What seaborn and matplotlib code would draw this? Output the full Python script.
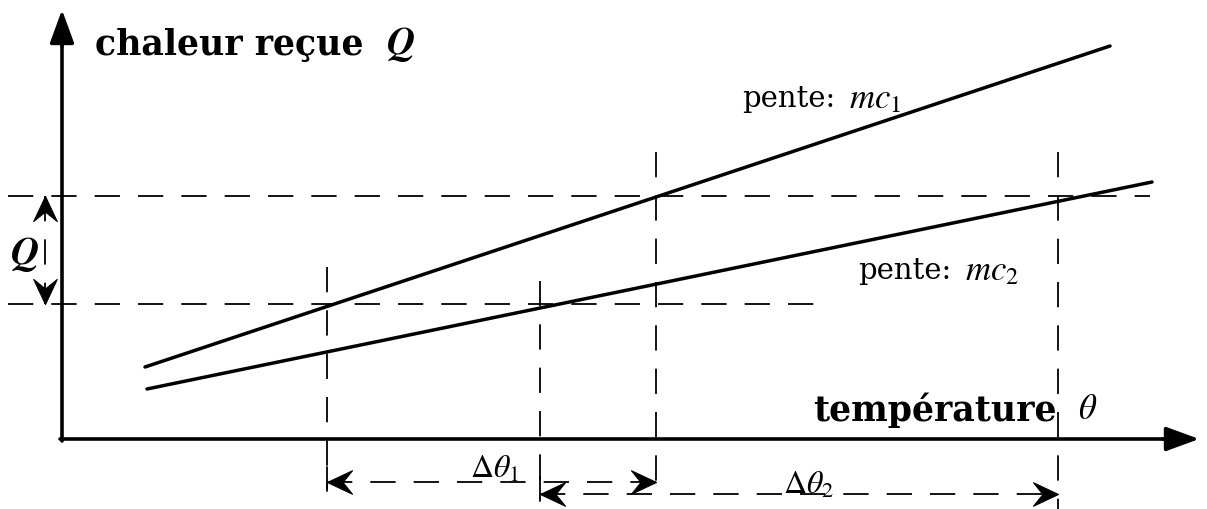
import matplotlib.pyplot as plt
import pandas as pd
import seaborn as sns
from matplotlib.path import Path
from matplotlib.markers import MarkerStyle
from matplotlib.transforms import Affine2D

# endpoints of the two heating lines (drawing units, y grows downward)
line_names = ['mc1', 'mc1', 'mc2', 'mc2']
line_theta = [145, 1110, 147, 1152]
line_q = [368, 47, 390, 183]

# reference levels and temperatures
q_levels = [197, 305]
q_level_ends = [1150, 830]
theta_marks = [327, 540, 656, 1058]
theta_mark_top = [268, 282, 153, 153]
theta_mark_bottom = [490, 500, 482, 510]

# delta-theta spans (start, end, y)
span1 = [327, 656, 483]
span2 = [540, 1058, 495]

sns.set_theme(style='white')
plt.rcParams['font.family'] = ['DejaVu Serif', 'DejaVu Sans']
plt.rcParams['mathtext.fontset'] = 'stix'
plt.rcParams['text.color'] = 'black'

fig = plt.figure(figsize=(12.07, 5.10), dpi=100)
ax = fig.add_axes([0, 0, 1, 1])
ax.set_xlim(0, 1207)
ax.set_ylim(510, 0)
ax.axis('off')

data = pd.DataFrame({'serie': line_names, 'theta': line_theta, 'Q': line_q})
sns.lineplot(data=data, x='theta', y='Q', units='serie', estimator=None,
             color='black', lw=2.5, ax=ax, legend=False)

dash = (0, (14, 10))
# horizontal dashed levels
for y, x_end in zip(q_levels, q_level_ends):
    ax.plot([8, x_end], [y, y], color='black', lw=1.3, ls=dash)
# vertical dashed marks
for x, y0, y1 in zip(theta_marks, theta_mark_top, theta_mark_bottom):
    ax.plot([x, x], [y0, y1], color='black', lw=1.3, ls=dash)

# axes with arrows
ax.plot([62, 62], [442, 40], color='black', lw=2.6)
ax.annotate('', xy=(62, 8), xytext=(62, 50),
            arrowprops=dict(arrowstyle='-|>,head_length=1.7,head_width=0.62',
                            color='black', lw=2.6))
ax.plot([60, 1165], [440, 440], color='black', lw=2.6)
ax.annotate('', xy=(1202, 440), xytext=(1160, 440),
            arrowprops=dict(arrowstyle='-|>,head_length=1.7,head_width=0.62',
                            color='black', lw=2.6))

# notched arrow head, tip at origin pointing +x
head_path = Path([(0, 0), (-1, 0.47), (-0.62, 0), (-1, -0.47), (0, 0)],
                 [Path.MOVETO, Path.LINETO, Path.LINETO, Path.LINETO, Path.CLOSEPOLY])


def head(x, y, angle):
    m = MarkerStyle(head_path, transform=Affine2D().rotate_deg(angle))
    ax.plot([x], [y], marker=m, markersize=36, color='black', mec='black', mew=0.8)


def dashed_double_arrow(p0, p1, a0, a1):
    (x0, y0), (x1, y1) = p0, p1
    ax.plot([x0, x1], [y0, y1], color='black', lw=1.3, ls=dash)
    head(x0, y0, a0)
    head(x1, y1, a1)


dashed_double_arrow((span1[0], span1[2]), (span1[1], span1[2]), 180, 0)
dashed_double_arrow((span2[0], span2[2]), (span2[1], span2[2]), 180, 0)
ax.plot([327, 327], [468, 492], color='black', lw=1.3)
ax.plot([540, 540], [478, 502], color='black', lw=1.3)
dashed_double_arrow((45, 197), (45, 305), 90, -90)

# texts
ax.text(95, 45, 'chaleur reçue', fontsize=25, fontweight='bold', va='center', ha='left')
ax.text(386, 44, r'$\boldsymbol{Q}$', fontsize=28, va='center', ha='left')
ax.text(10, 254, r'$\boldsymbol{Q}$', fontsize=28, va='center', ha='left')
ax.text(813, 410, 'température', fontsize=25, fontweight='bold', va='center', ha='left')
ax.text(1078, 409, r'$\theta$', fontsize=25, va='center', ha='left')
ax.text(742, 99, 'pente:', fontsize=21, va='center', ha='left')
ax.text(849, 98, r'$mc_1$', fontsize=25, va='center', ha='left')
ax.text(858, 271, 'pente:', fontsize=21, va='center', ha='left')
ax.text(965, 270, r'$mc_2$', fontsize=25, va='center', ha='left')
ax.text(470, 469, r'$\Delta\theta_1$', fontsize=23, va='center', ha='left')
ax.text(783, 485, r'$\Delta\theta_2$', fontsize=23, va='center', ha='left')

fig.savefig('out.png', dpi=100)
